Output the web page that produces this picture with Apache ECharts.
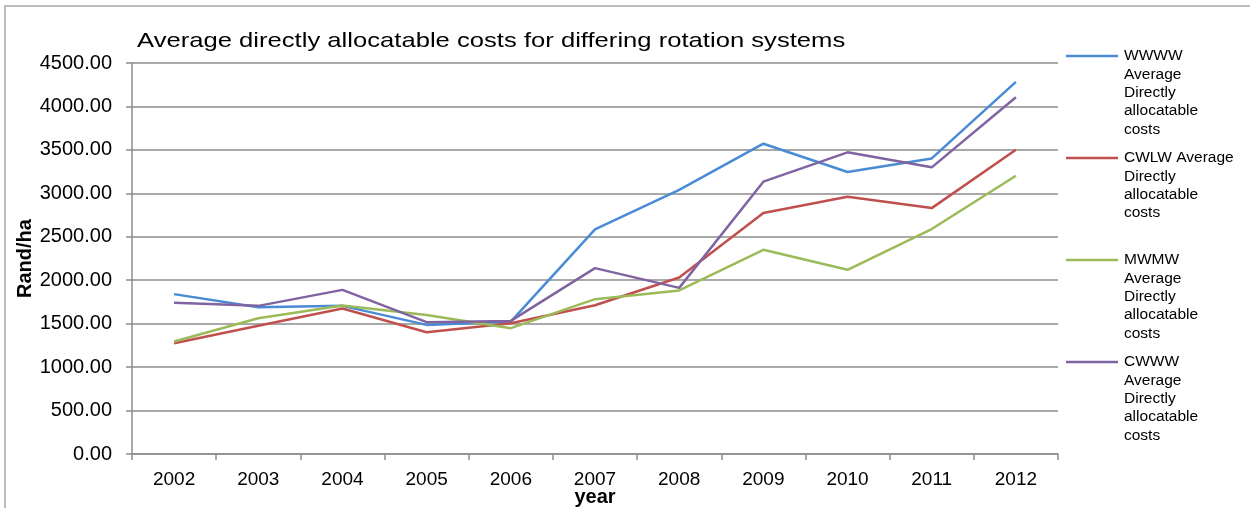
<!DOCTYPE html>
<html>
<head>
<meta charset="utf-8">
<title>Average directly allocatable costs</title>
<script src="https://cdn.jsdelivr.net/npm/echarts@6/dist/echarts.min.js"></script>
<style>
  html, body { margin: 0; padding: 0; background: #fff; }
  #chart { width: 1250px; height: 508px; }
</style>
</head>
<body>
<div id="chart"></div>
<script>
// Years on the category axis
const years = ['2002', '2003', '2004', '2005', '2006', '2007', '2008', '2009', '2010', '2011', '2012'];

// Average directly allocatable costs (Rand/ha) per rotation system
const wwww = [1840, 1690, 1705, 1486, 1524, 2585, 3040, 3571, 3245, 3402, 4282];
const cwlw = [1275, 1475, 1674, 1402, 1505, 1712, 2031, 2773, 2961, 2830, 3502];
const mwmw = [1294, 1563, 1709, 1601, 1448, 1782, 1882, 2350, 2120, 2589, 3203];
const cwww = [1740, 1705, 1889, 1517, 1532, 2139, 1912, 3134, 3472, 3299, 4105];

const seriesNames = [
  'WWWW Average Directly allocatable costs',
  'CWLW Average Directly allocatable costs',
  'MWMW Average Directly allocatable costs',
  'CWWW Average Directly allocatable costs'
];
// Legend text, wrapped the way the legend column shows it
const legendLabels = [
  'WWWW\nAverage\nDirectly\nallocatable\ncosts',
  'CWLW Average\nDirectly\nallocatable\ncosts',
  'MWMW\nAverage\nDirectly\nallocatable\ncosts',
  'CWWW\nAverage\nDirectly\nallocatable\ncosts'
];
const seriesData = [wwww, cwlw, mwmw, cwww];
const colors = ['#4a8bd6', '#c0504d', '#9bbb59', '#8064a2'];

const chartTitle = 'Average directly allocatable costs for differing rotation systems';

const FONT = '"Liberation Sans", Arial, sans-serif';
const GRID_COLOR = '#8c8c8c';

const chart = echarts.init(document.getElementById('chart'), null, { renderer: 'canvas' });

// Legend column on the right: a short line swatch beside each wrapped label
const legendItems = [];
const legendTop = 56;
const legendStep = 102;
legendLabels.forEach((label, i) => {
  const cy = legendTop + i * legendStep;
  legendItems.push({
    type: 'line',
    shape: { x1: 1066, y1: cy, x2: 1118, y2: cy },
    style: { stroke: colors[i], lineWidth: 2.5 }
  });
  legendItems.push({
    type: 'text',
    x: 1124,
    y: cy - 9,
    style: {
      text: label,
      font: '15.5px ' + FONT,
      fill: '#000',
      lineHeight: 18.3,
      verticalAlign: 'top'
    }
  });
});

const option = {
  backgroundColor: '#fff',
  animation: false,
  color: colors,
  grid: { left: 132, right: 192, top: 63, bottom: 54, outerBoundsMode: 'none' },
  xAxis: {
    type: 'category',
    data: years,
    boundaryGap: true,
    name: 'year',
    nameLocation: 'middle',
    nameGap: 33,
    nameMoveOverlap: false,
    nameTextStyle: { fontFamily: FONT, fontSize: 20, fontWeight: 'bold', color: '#000' },
    axisLine: { show: true, lineStyle: { color: GRID_COLOR, width: 1.5 } },
    axisTick: { show: true, length: 6, alignWithLabel: false, lineStyle: { color: GRID_COLOR, width: 1.5 } },
    axisLabel: { fontFamily: FONT, fontSize: 19, color: '#000', margin: 16 },
    splitLine: { show: false }
  },
  yAxis: {
    type: 'value',
    min: 0,
    max: 4500,
    interval: 500,
    name: 'Rand/ha',
    nameLocation: 'middle',
    nameRotate: 90,
    nameGap: 97,
    nameMoveOverlap: false,
    nameTextStyle: { fontFamily: FONT, fontSize: 20, fontWeight: 'bold', color: '#000' },
    axisLine: { show: true, lineStyle: { color: GRID_COLOR, width: 1.5 } },
    axisTick: { show: true, length: 6, lineStyle: { color: GRID_COLOR, width: 1.5 } },
    axisLabel: {
      fontFamily: FONT, fontSize: 20, color: '#000', margin: 20,
      formatter: v => v.toFixed(2)
    },
    splitLine: { show: true, lineStyle: { color: GRID_COLOR, width: 1.5 } }
  },
  graphic: [
    {
      type: 'rect',
      z: -10,
      shape: { x: 5, y: 6, width: 1300, height: 600 },
      style: { fill: 'none', stroke: '#a6a6a6', lineWidth: 1.5 }
    },
    {
      // chart title, set slightly wide
      type: 'text',
      x: 137,
      y: 41,
      scaleX: 1.22,
      style: {
        text: chartTitle,
        font: '21px ' + FONT,
        fill: '#000',
        verticalAlign: 'middle'
      }
    },
    ...legendItems
  ],
  series: seriesData.map((data, i) => ({
    name: seriesNames[i],
    type: 'line',
    data: data,
    symbol: 'none',
    smooth: false,
    lineStyle: { color: colors[i], width: 2.5 },
    z: 3
  }))
};

chart.setOption(option);
</script>
</body>
</html>
